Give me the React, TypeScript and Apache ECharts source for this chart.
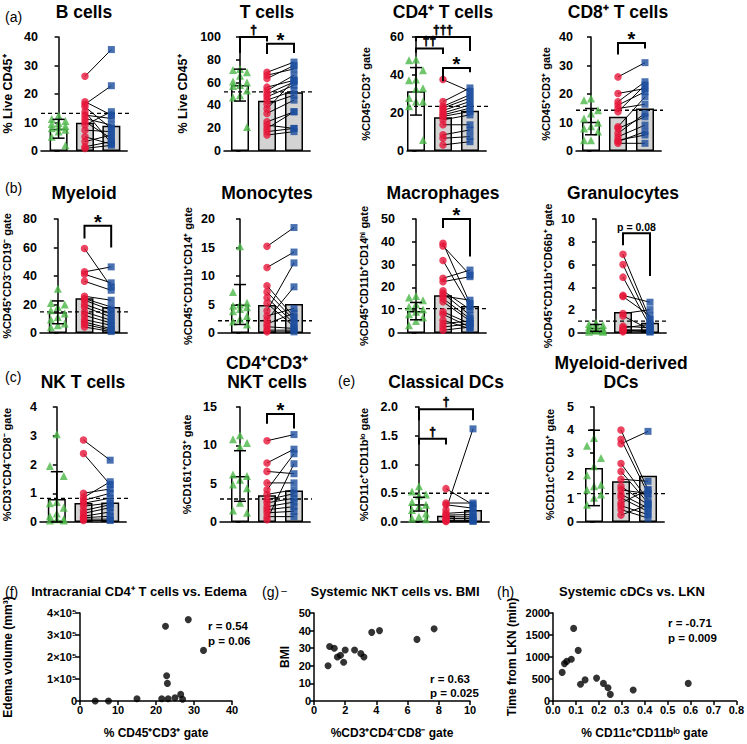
import React, { useEffect, useRef } from 'react';
import * as echarts from 'echarts';

const FONT = '"Liberation Sans", Arial, Helvetica, sans-serif';
const GREEN = '#4cb848';
const RED = '#e6163a';
const BLUE = '#1c4d9e';
const GREY = '#d3d3d3';

// ---------- (a) ----------
const B_GREEN = [12.5, 11.2, 10.5, 9.8, 9.5, 8.8, 8.5, 8.0, 7.5, 6.8, 5.0, 2.0];
const B_RED = [26.2, 17.3, 16.4, 15.5, 13.8, 12.6, 11.4, 10.3, 9.1, 7.3, 5.0, 3.3, 1.5, 0.9];
const B_BLUE = [35.6, 12.6, 22.9, 7.9, 2.7, 11.4, 9.1, 4.4, 13.8, 6.8, 2.4, 5.6, 3.3, 2.0];
const B_MEANS = [7.8, 9.9, 8.9];
const B_SD = 3.3;
const B_REF = 13.2;

const T_GREEN = [72, 71, 69, 66, 61, 60, 58, 57, 53, 49, 47, 21];
const T_RED = [69, 66.5, 63.6, 56, 53, 50, 47.5, 44.6, 41, 37, 33, 25.6, 22.7, 19.8, 17, 14];
const T_BLUE = [78, 72, 75, 62, 66.5, 60.6, 57.7, 53, 49, 62, 44.6, 34.4, 19.8, 34.4, 19.8, 17];
const T_MEANS = [57.8, 44, 51.6];
const T_SD = 14;
const T_REF = 51.9;

const CD4_GREEN = [48.2, 47.8, 42.5, 37.6, 37.2, 33, 32.6, 27.9, 26, 26, 23.5, 5.8];
const CD4_RED = [37.6, 26, 23.5, 22.6, 21.3, 20, 19, 18.2, 16.4, 13.8, 8.5, 6.7, 3.2];
const CD4_BLUE = [31.4, 33.2, 29.6, 27.9, 26.1, 24.3, 22.6, 20.8, 19.0, 13.8, 11.1, 7.6, 4.9];
const CD4_MEANS = [31.4, 17.8, 21.2];
const CD4_SD = 12.5;
const CD4_REF = 23.5;

const CD8_GREEN = [18.4, 17.8, 14.3, 13.2, 11.4, 9.9, 8.7, 7.9, 6.8, 3.8, 3.8];
const CD8_RED = [26, 20.2, 17.3, 16.1, 14.9, 13.8, 8.5, 7.9, 6.2, 5, 3.8, 3.3, 2.7];
const CD8_BLUE = [31, 21.9, 24.3, 20.8, 16.4, 23.1, 19, 12, 13.2, 9.1, 5.6, 6.8, 2.7];
const CD8_MEANS = [10.3, 12, 14.9];
const CD8_SD = 4.6;
const CD8_REF = 14.3;

// ---------- (b) ----------
const MY_GREEN = [31, 21, 20, 18.3, 16, 13.6, 11.2, 9.4, 6.6, 5.4, 4];
const MY_RED = [59.3, 42.9, 41.2, 36.3, 25.8, 24.1, 23, 20.1, 18.3, 14.8, 12.4, 9.4, 7.7, 6.1, 4.2];
const MY_BLUE = [32.3, 46.4, 35.2, 30, 23, 18.3, 16, 13.6, 11.2, 8.9, 7, 5.4, 3, 2, 1];
const MY_MEANS = [14.5, 24.4, 18.3];
const MY_SD = 8;
const MY_REF = 14.8;

const MO_GREEN = [15.2, 7.2, 5.3, 5, 4.8, 4.5, 4.2, 3.8, 3, 2.5, 2, 1.5];
const MO_RED = [15.2, 11.5, 8.3, 7.2, 6.2, 5.2, 3.9, 3.0, 2.3, 1.6, 1.1, 0.5, 0.2];
const MO_BLUE = [18.5, 14.2, 2.8, 2.3, 1.7, 1.1, 12.3, 4.3, 8.1, 3.5, 0.8, 0.5, 0.2];
const MO_MEANS = [5.0, 4.9, 5.1];
const MO_SD = 3.5;
const MO_REF = 2.15;

const MA_GREEN = [16.2, 15.6, 14.4, 12.6, 11.5, 10.3, 9.3, 8.2, 6.8, 5.3, 3.4];
const MA_RED = [39.4, 38.2, 31.8, 24, 22.5, 18.5, 17.4, 16.2, 15.1, 13.7, 9.3, 8.2, 5.6, 4.1, 2.6, 1.2];
const MA_BLUE = [12.9, 25.4, 11.5, 27.6, 24.7, 10.3, 7.8, 14.4, 6.3, 5.3, 4.1, 2.6, 1.9, 5.3, 4.1, 2.6];
const MA_MEANS = [9.6, 16.6, 11.8];
const MA_SD = 3.8;
const MA_REF = 10.7;

const GR_GREEN = [0.9, 0.8, 0.7, 0.6, 0.5, 0.4, 0.3, 0.3, 0.2, 0.2, 0.1, 0.1];
const GR_RED = [6.9, 6.0, 4.9, 3.3, 3.2, 1.7, 1.5, 0.6, 0.45, 0.3, 0.25, 0.2, 0.1];
const GR_BLUE = [1.2, 0.9, 0.6, 2.7, 1.5, 2.05, 0.3, 0.45, 0.75, 0.2, 0.1, 0.3, 0.1];
const GR_MEANS = [0.45, 1.85, 0.9];
const GR_SD = 0.3;
const GR_REF = 1.05;

// ---------- (c) / (e) ----------
const NK_GREEN = [3.05, 1.95, 1.6, 0.7, 0.65, 0.5, 0.3, 0.2, 0.1, 0.1, 0.05, 0.05];
const NK_RED = [2.85, 2.38, 1.0, 0.85, 0.75, 0.65, 0.55, 0.4, 0.3, 0.2, 0.15, 0.1, 0.05];
const NK_BLUE = [2.15, 1.3, 1.15, 1.4, 1.0, 0.83, 0.66, 0.6, 0.5, 0.35, 0.2, 0.1, 0.05];
const NK_MEANS = [0.8, 0.66, 0.68];
const NK_SD = 0.95;
const NK_REF = 0.82;

const NKT_GREEN = [11.3, 10.8, 10.3, 9.8, 6.2, 6.0, 5.5, 4.9, 4.4, 2.5, 1.5, 1.2];
const NKT_RED = [10.6, 7.7, 6.6, 5.1, 4.2, 3.6, 2.9, 2.5, 2.0, 1.6, 1.2, 0.7, 0.3];
const NKT_BLUE = [11.4, 9.5, 6.3, 5.1, 8.9, 4.2, 3.7, 3.1, 2.6, 2.0, 1.4, 0.7, 7.6];
const NKT_MEANS = [6.0, 3.5, 4.1];
const NKT_SD = 3.3;
const NKT_REF = 3.0;

const CDC_GREEN = [0.62, 0.53, 0.48, 0.46, 0.35, 0.3, 0.27, 0.21, 0.15, 0.09, 0.06, 0.05];
const CDC_RED = [0.58, 0.33, 0.3, 0.21, 0.15, 0.12, 0.09, 0.06, 0.03, 0.02, 0.01];
const CDC_BLUE = [0.3, 0.33, 0.24, 1.62, 0.18, 0.13, 0.09, 0.06, 0.03, 0.02, 0.01];
const CDC_MEANS = [0.31, 0.11, 0.21];
const CDC_SD = 0.12;
const CDC_REF = 0.5;

const MDC_GREEN = [3.65, 3.32, 2.78, 2.42, 2.03, 1.62, 1.55, 1.4, 1.2, 1.05, 0.75];
const MDC_RED = [4.0, 3.6, 3.4, 2.54, 2.2, 1.86, 1.55, 1.4, 1.2, 1.05, 0.83, 0.71, 0.54, 0.3];
const MDC_BLUE = [1.4, 1.23, 3.94, 0.97, 0.83, 1.77, 0.75, 1.23, 0.61, 0.46, 1.4, 0.32, 0.17, 0.75];
const MDC_MEANS = [2.35, 1.77, 2.01];
const MDC_SD = 1.64;
const MDC_REF = 1.23;

// brackets: [fromGroup, toGroup, topValue, leftLegEnd, rightLegEnd]
const T_BRACKETS = [[0, 1, 100, 86, 96], [1, 2, 94, 85, 86]];
const T_BRACKET_LABELS = ['†', '*'];
const CD4_BRACKETS = [[0, 2, 60, 57.8, 52.6], [0, 1, 54, 51.7, 51], [1, 2, 43.7, 36.7, 41.5]];
const CD4_BRACKET_LABELS = ['†††', '††', '*'];
const CD8_BRACKETS = [[1, 2, 37.9, 33.9, 36]];
const CD8_BRACKET_LABELS = ['*'];
const MY_BRACKETS = [[1, 2, 75.3, 66.3, 60]];
const MY_BRACKET_LABELS = ['*'];
const MA_BRACKETS = [[1, 2, 50, 46, 33.5]];
const MA_BRACKET_LABELS = ['*'];
const GR_BRACKETS = [[1, 2, 8.75, 7.7, 5.0]];
const GR_BRACKET_LABELS = ['p = 0.08'];
const NKT_BRACKETS = [[1, 2, 14.1, 12.8, 12.2]];
const NKT_BRACKET_LABELS = ['*'];
const CDC_BRACKETS = [[0, 2, 1.96, 1.77, 1.77], [0, 1, 1.45, 1.35, 1.35]];
const CDC_BRACKET_LABELS = ['†', '†'];

// ---------- (f)(g)(h) ----------
const F_X = [4, 7.5, 15, 21.5, 22.5, 22.8, 23, 23.2, 25, 26.5, 27, 28.5, 32.5];
const F_Y = [0, 0, 10000, 10000, 340000, 115000, 80000, 10000, 15000, 30000, 8000, 370000, 230000];
const G_X = [0.9, 1.0, 1.3, 1.5, 1.7, 1.9, 2.0, 2.6, 3.0, 3.2, 3.7, 4.2, 6.6, 7.7];
const G_Y = [20, 31, 30, 25, 26, 22, 29, 29, 27, 25, 39, 40, 35, 41];
const H_X = [0.04, 0.05, 0.06, 0.08, 0.09, 0.11, 0.12, 0.14, 0.19, 0.22, 0.24, 0.25, 0.35, 0.59];
const H_Y = [650, 850, 900, 950, 1650, 1150, 380, 480, 520, 400, 300, 150, 250, 400];

const ROWS: any = { a: [37, 151], b: [219, 333], c: [407, 522] };
const STEP = 27;
const JITTER = [0, -0.26, 0.26];

const PANELS: any[] = [
  { title: 'B cells', yName: '% Live CD45⁺', max: 40, interval: 10, means: B_MEANS, sd: B_SD, ref: B_REF, green: B_GREEN, red: B_RED, blue: B_BLUE, br: [], brl: [], row: 'a', left: 39, c0: 57, nameX: 12, nameSize: 12.5 },
  { title: 'T cells', yName: '% Live CD45⁺', max: 100, interval: 20, means: T_MEANS, sd: T_SD, ref: T_REF, green: T_GREEN, red: T_RED, blue: T_BLUE, br: T_BRACKETS, brl: T_BRACKET_LABELS, row: 'a', left: 224, c0: 240, nameX: 189, nameSize: 12.5 },
  { title: 'CD4⁺ T cells', yName: '%CD45⁺CD3⁺ gate', max: 60, interval: 20, means: CD4_MEANS, sd: CD4_SD, ref: CD4_REF, green: CD4_GREEN, red: CD4_RED, blue: CD4_BLUE, br: CD4_BRACKETS, brl: CD4_BRACKET_LABELS, row: 'a', left: 407, c0: 416, nameX: 371, nameSize: 11 },
  { title: 'CD8⁺ T cells', yName: '%CD45⁺CD3⁺ gate', max: 40, interval: 10, means: CD8_MEANS, sd: CD8_SD, ref: CD8_REF, green: CD8_GREEN, red: CD8_RED, blue: CD8_BLUE, br: CD8_BRACKETS, brl: CD8_BRACKET_LABELS, row: 'a', left: 576, c0: 591, nameX: 551, nameSize: 11 },
  { title: 'Myeloid', yName: '%CD45⁺CD3⁻CD19⁻ gate', max: 80, interval: 20, means: MY_MEANS, sd: MY_SD, ref: MY_REF, green: MY_GREEN, red: MY_RED, blue: MY_BLUE, br: MY_BRACKETS, brl: MY_BRACKET_LABELS, row: 'b', left: 39, c0: 57, nameX: 11, nameSize: 11 },
  { title: 'Monocytes', yName: '%CD45⁺CD11b⁺CD14⁺ gate', max: 20, interval: 5, means: MO_MEANS, sd: MO_SD, ref: MO_REF, green: MO_GREEN, red: MO_RED, blue: MO_BLUE, br: [], brl: [], row: 'b', left: 218, c0: 240, nameX: 193, nameSize: 11 },
  { title: 'Macrophages', yName: '%CD45⁺CD11b⁺CD14ʰⁱ gate', max: 50, interval: 10, means: MA_MEANS, sd: MA_SD, ref: MA_REF, green: MA_GREEN, red: MA_RED, blue: MA_BLUE, br: MA_BRACKETS, brl: MA_BRACKET_LABELS, row: 'b', left: 398, c0: 416, nameX: 369, nameSize: 11 },
  { title: 'Granulocytes', yName: '%CD45⁺CD11b⁺CD66b⁺ gate', max: 10, interval: 2, means: GR_MEANS, sd: GR_SD, ref: GR_REF, green: GR_GREEN, red: GR_RED, blue: GR_BLUE, br: GR_BRACKETS, brl: GR_BRACKET_LABELS, row: 'b', left: 578, c0: 596, nameX: 553, nameSize: 11 },
  { title: 'NK T cells', yName: '%CD3⁺CD4⁻CD8⁻ gate', max: 4, interval: 1, means: NK_MEANS, sd: NK_SD, ref: NK_REF, green: NK_GREEN, red: NK_RED, blue: NK_BLUE, br: [], brl: [], row: 'c', left: 39, c0: 56, nameX: 11, nameSize: 11 },
  { title: 'CD4⁺CD3⁺\nNKT cells', yName: '%CD161⁺CD3⁺ gate', max: 15, interval: 5, means: NKT_MEANS, sd: NKT_SD, ref: NKT_REF, green: NKT_GREEN, red: NKT_RED, blue: NKT_BLUE, br: NKT_BRACKETS, brl: NKT_BRACKET_LABELS, row: 'c', left: 220, c0: 240, nameX: 192, nameSize: 11 },
  { title: 'Classical DCs', yName: '%CD11c⁺CD11bˡᵒ gate', max: 2, interval: 0.5, dec: 1, means: CDC_MEANS, sd: CDC_SD, ref: CDC_REF, green: CDC_GREEN, red: CDC_RED, blue: CDC_BLUE, br: CDC_BRACKETS, brl: CDC_BRACKET_LABELS, row: 'c', left: 401, c0: 419, nameX: 369, nameSize: 11 },
  { title: 'Myeloid-derived\nDCs', yName: '%CD11c⁺CD11b⁺ gate', max: 5, interval: 1, means: MDC_MEANS, sd: MDC_SD, ref: MDC_REF, green: MDC_GREEN, red: MDC_RED, blue: MDC_BLUE, br: [], brl: [], row: 'c', left: 577, c0: 594, nameX: 555, nameSize: 11 },
];

const TITLE_Y: any = { a: 12, b: 193, c: 382 };

function axisLine() {
  return { show: true, lineStyle: { color: '#000', width: 1.5 } };
}

function textStyle(text: string, size: number, weight: string, align: string, vAlign: string) {
  return {
    text, fill: '#000', fontFamily: FONT, fontWeight: weight, fontSize: size,
    textAlign: align, textVerticalAlign: vAlign,
  };
}

function buildOption() {
  const grid: any[] = [];
  const xAxis: any[] = [];
  const yAxis: any[] = [];
  const series: any[] = [];
  const graphic: any[] = [];

  PANELS.forEach((p, i) => {
    const [top, bottom] = ROWS[p.row];
    const xMin = -(p.c0 - p.left) / STEP;
    const xMax = 2.6;
    grid.push({ left: p.left, top, width: (xMax - xMin) * STEP, height: bottom - top });
    xAxis.push({
      gridIndex: i, type: 'value', min: xMin, max: xMax,
      axisLine: axisLine(), axisTick: { show: false }, axisLabel: { show: false }, splitLine: { show: false },
    });
    yAxis.push({
      gridIndex: i, type: 'value', min: 0, max: p.max, interval: p.interval,
      name: p.yName, nameLocation: 'middle', nameGap: p.left - p.nameX,
      nameTextStyle: { fontFamily: FONT, fontSize: p.nameSize, fontWeight: 'bold', color: '#000' },
      axisLine: axisLine(),
      axisTick: { show: true, length: 4, lineStyle: { color: '#000', width: 1.5 } },
      axisLabel: {
        fontFamily: FONT, fontSize: 12.5, fontWeight: 'bold', color: '#000', margin: 3,
        formatter: (v: number) => (p.dec ? v.toFixed(p.dec) : String(v)),
      },
      splitLine: { show: false },
    });
    const ax = { xAxisIndex: i, yAxisIndex: i };
    series.push({
      ...ax, type: 'bar', barWidth: 18, z: 1, silent: true,
      data: p.means.map((m: number, k: number) => ({ value: [k, m], itemStyle: { color: k === 0 ? '#ffffff' : GREY, borderColor: '#000', borderWidth: 1.5 } })),
    });
    series.push({
      ...ax, type: 'line', symbol: 'none', clip: false, z: 3, silent: true,
      data: [[xMin, p.ref], [2.85, p.ref]],
      lineStyle: { color: '#000', width: 1.3, type: [4, 3] },
    });
    series.push({
      ...ax, type: 'custom', z: 4, clip: false, silent: true,
      data: p.red.map((r: number, k: number) => [r, p.blue[k]]),
      renderItem: (params: any, api: any) => {
        const a = api.coord([1, api.value(0)]);
        const b = api.coord([2, api.value(1)]);
        return { type: 'line', shape: { x1: a[0], y1: a[1], x2: b[0], y2: b[1] }, style: { stroke: '#000', lineWidth: 1 } };
      },
    });
    series.push({
      ...ax, type: 'scatter', symbol: 'triangle', symbolSize: 8, clip: false, z: 5, silent: true,
      itemStyle: { color: GREEN },
      data: p.green.map((v: number, k: number) => [JITTER[k % 3], v]),
    });
    series.push({
      ...ax, type: 'scatter', symbol: 'circle', symbolSize: 7.5, clip: false, z: 5, silent: true,
      itemStyle: { color: RED },
      data: p.red.map((v: number) => [1, v]),
    });
    series.push({
      ...ax, type: 'scatter', symbol: 'rect', symbolSize: 7, clip: false, z: 5, silent: true,
      itemStyle: { color: BLUE },
      data: p.blue.map((v: number) => [2, v]),
    });
    series.push({
      ...ax, type: 'custom', z: 6, clip: false, silent: true,
      data: [[0, Math.max(0, p.means[0] - p.sd), p.means[0] + p.sd]],
      renderItem: (params: any, api: any) => {
        const lo = api.coord([api.value(0), api.value(1)]);
        const hi = api.coord([api.value(0), api.value(2)]);
        const w = 6;
        const st = { stroke: '#000', lineWidth: 1.5 };
        return {
          type: 'group', children: [
            { type: 'line', shape: { x1: lo[0], y1: lo[1], x2: hi[0], y2: hi[1] }, style: st },
            { type: 'line', shape: { x1: hi[0] - w, y1: hi[1], x2: hi[0] + w, y2: hi[1] }, style: st },
            { type: 'line', shape: { x1: lo[0] - w, y1: lo[1], x2: lo[0] + w, y2: lo[1] }, style: st },
          ],
        };
      },
    });
    if (p.br.length) {
      series.push({
        ...ax, type: 'custom', z: 6, clip: false, silent: true,
        data: p.br,
        renderItem: (params: any, api: any) => {
          const x1 = api.value(0), x2 = api.value(1), t = api.value(2), l1 = api.value(3), l2 = api.value(4);
          const a = api.coord([x1, l1]);
          const b = api.coord([x1, t]);
          const c = api.coord([x2, t]);
          const d = api.coord([x2, l2]);
          const label = p.brl[params.dataIndex];
          const isP = label.length > 3;
          const isStar = label === '*';
          const isDagger = !isP && !isStar;
          const st: any = textStyle(label, isP ? 10.5 : isStar ? 20 : 12, 'bold', 'center', 'bottom');
          if (isDagger) { st.stroke = '#000'; st.lineWidth = 0.6; }
          return {
            type: 'group', children: [
              { type: 'polyline', shape: { points: [a, b, c, d] }, style: { stroke: '#000', lineWidth: 2, fill: 'none' } },
              { type: 'text', x: (b[0] + c[0]) / 2, y: b[1] + (isStar ? 6 : -1), style: st },
            ],
          };
        },
      });
    }
    const cx = p.c0 + STEP;
    const lines = p.title.split('\n');
    lines.forEach((ln: string, li: number) => {
      const y = lines.length === 2 ? TITLE_Y[p.row] - 19 + li * 19 : TITLE_Y[p.row];
      graphic.push({ type: 'text', x: cx, y, style: textStyle(ln, 17.5, 'bold', 'center', 'middle') });
    });
  });

  // bottom scatter panels
  const SC: any[] = [
    { xs: F_X, ys: F_Y, left: 80, width: 152, xMax: 40, xInt: 10, yMax: 400000, yInt: 100000, xName: '% CD45⁺CD3⁺ gate', yName: 'Edema volume (mm³)', yGap: 66, xDec: 0,
      yFmt: (v: number) => (v === 0 ? '0' : `${v / 100000}×10⁵`) },
    { xs: G_X, ys: G_Y, left: 314, width: 156, xMax: 10, xInt: 2, yMax: 50, yInt: 10, xName: '%CD3⁺CD4⁻CD8⁻ gate', yName: 'BMI', yGap: 23, xDec: 0,
      yFmt: (v: number) => String(v) },
    { xs: H_X, ys: H_Y, left: 553, width: 184, xMax: 0.8, xInt: 0.1, yMax: 2000, yInt: 500, xName: '% CD11c⁺CD11bˡᵒ gate', yName: 'Time from LKN (min)', yGap: 35, xDec: 1,
      yFmt: (v: number) => String(v) },
  ];
  SC.forEach((s, j) => {
    const i = PANELS.length + j;
    grid.push({ left: s.left, top: 613, width: s.width, height: 88 });
    xAxis.push({
      gridIndex: i, type: 'value', min: 0, max: s.xMax, interval: s.xInt,
      name: s.xName, nameLocation: 'middle', nameGap: 26,
      nameTextStyle: { fontFamily: FONT, fontSize: 12, fontWeight: 'bold', color: '#000' },
      axisLine: axisLine(), axisTick: { show: true, length: 4, lineStyle: { color: '#000', width: 1.5 } },
      axisLabel: { fontFamily: FONT, fontSize: 11, fontWeight: 'bold', color: '#000', margin: 3, formatter: (v: number) => v.toFixed(s.xDec) },
      splitLine: { show: false },
    });
    yAxis.push({
      gridIndex: i, type: 'value', min: 0, max: s.yMax, interval: s.yInt,
      name: s.yName, nameLocation: 'middle', nameGap: s.yGap,
      nameTextStyle: { fontFamily: FONT, fontSize: 12, fontWeight: 'bold', color: '#000' },
      axisLine: axisLine(), axisTick: { show: true, length: 4, lineStyle: { color: '#000', width: 1.5 } },
      axisLabel: { fontFamily: FONT, fontSize: 11, fontWeight: 'bold', color: '#000', margin: 3, formatter: s.yFmt },
      splitLine: { show: false },
    });
    series.push({
      xAxisIndex: i, yAxisIndex: i, type: 'scatter', symbol: 'circle', symbolSize: 7, clip: false, silent: true,
      itemStyle: { color: '#000' },
      data: s.xs.map((x: number, k: number) => [x, s.ys[k]]),
    });
  });

  const txt = (text: string, x: number, y: number, size: number, weight = 'normal', align = 'left') => ({
    type: 'text', x, y, style: textStyle(text, size, weight, align, 'middle'),
  });
  graphic.push(txt('(a)', 5, 17, 14));
  graphic.push(txt('(b)', 5, 188, 14));
  graphic.push(txt('(c)', 5, 377, 14));
  graphic.push(txt('(e)', 338, 381, 14));
  graphic.push(txt('(f)', 5, 592, 14));
  graphic.push(txt('(g)', 262, 592, 14));
  graphic.push(txt('(h)', 497, 592, 14));
  graphic.push(txt('Intracranial CD4⁺ T cells vs. Edema', 139, 591, 13, 'bold', 'center'));
  graphic.push(txt('–', 284, 590, 10, 'normal', 'center'));
  graphic.push(txt('Systemic NKT cells vs. BMI', 395, 591, 13, 'bold', 'center'));
  graphic.push(txt('Systemic cDCs vs. LKN', 632, 591, 13, 'bold', 'center'));
  graphic.push(txt('r = 0.54', 208, 626, 11.5, 'bold'));
  graphic.push(txt('p = 0.06', 208, 641, 11.5, 'bold'));
  graphic.push(txt('r = 0.63', 430, 679, 11.5, 'bold'));
  graphic.push(txt('p = 0.025', 430, 693, 11.5, 'bold'));
  graphic.push(txt('r = -0.71', 668, 623, 11.5, 'bold'));
  graphic.push(txt('p = 0.009', 668, 638, 11.5, 'bold'));

  return { animation: false, backgroundColor: '#ffffff', grid, xAxis, yAxis, series, graphic };
}

export default function App() {
  const ref = useRef<HTMLDivElement>(null);
  useEffect(() => {
    if (!ref.current) return;
    const chart = echarts.init(ref.current, undefined, { renderer: 'svg' });
    chart.setOption(buildOption() as any);
    return () => chart.dispose();
  }, []);
  return <div ref={ref} style={{ position: 'absolute', left: 0, top: 0, width: 747, height: 744, background: '#fff' }} />;
}
